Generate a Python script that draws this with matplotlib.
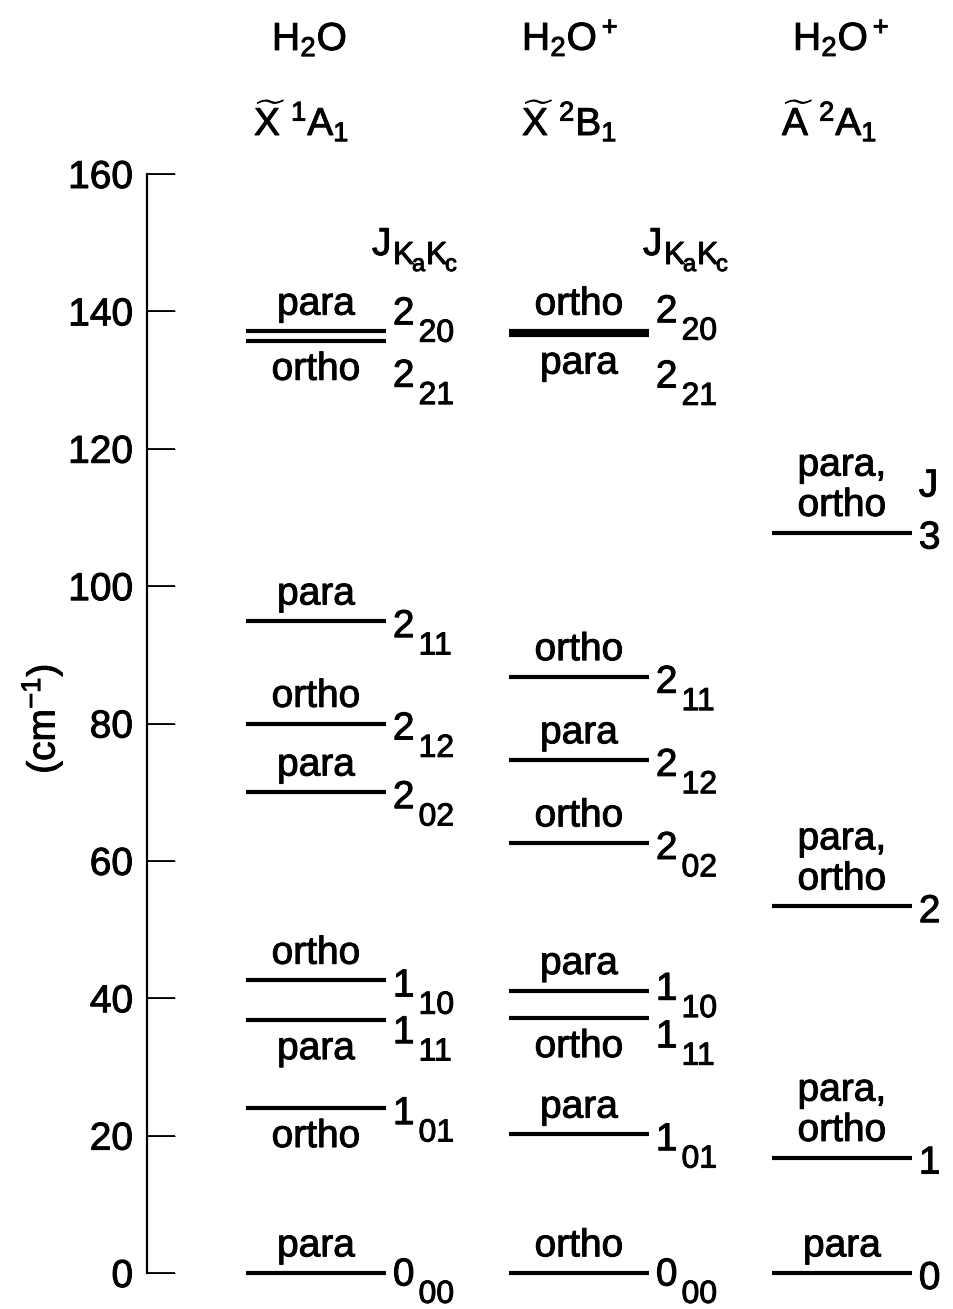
import matplotlib
matplotlib.use("Agg")
import matplotlib.pyplot as plt
import matplotlib.patheffects as pe

plt.rcParams['font.family'] = 'Liberation Sans'
plt.rcParams['mathtext.fontset'] = 'custom'
plt.rcParams['mathtext.rm'] = 'Liberation Sans'
plt.rcParams['mathtext.it'] = 'Liberation Sans'
plt.rcParams['mathtext.bf'] = 'Liberation Sans:bold'
# slightly heavier strokes on the lettering
plt.rcParams['path.effects'] = [pe.withStroke(linewidth=0.7, foreground='black')]

# ---- rotational levels (cm^-1) ----
# H2O  X 1A1
h2o_energy = [0.0, 24.0, 36.8, 42.6, 70.0, 80.0, 94.9, 135.7, 137.1]
h2o_j = ["0_00", "1_01", "1_11", "1_10", "2_02", "2_12", "2_11", "2_21", "2_20"]
h2o_spin = ["para", "ortho", "para", "ortho", "para", "ortho", "para", "ortho", "para"]

# H2O+  X 2B1
ion_x_energy = [0.0, 20.2, 37.1, 41.1, 62.6, 74.7, 86.8, 136.6, 137.1]
ion_x_j = ["0_00", "1_01", "1_11", "1_10", "2_02", "2_12", "2_11", "2_21", "2_20"]
ion_x_spin = ["ortho", "para", "ortho", "para", "ortho", "para", "ortho", "para", "ortho"]

# H2O+  A 2A1
ion_a_energy = [0.0, 16.8, 53.4, 107.8]
ion_a_j = ["0", "1", "2", "3"]
ion_a_spin = ["para", "para,\northo", "para,\northo", "para,\northo"]

# which side of the line the ortho/para name goes
h2o_side = ["up", "down", "down", "up", "up", "up", "up", "down", "up"]
ion_x_side = ["up", "up", "down", "up", "up", "up", "up", "down", "up"]
ion_a_side = ["up", "up", "up", "up"]

columns = [
    (h2o_energy, h2o_j, h2o_spin, h2o_side),
    (ion_x_energy, ion_x_j, ion_x_spin, ion_x_side),
    (ion_a_energy, ion_a_j, ion_a_spin, ion_a_side),
]

# vertical offset (points) of the J label baseline, where it differs from default
j_nudge = {
    (0, "0_00"): -9, (1, "0_00"): -9,
    (0, "1_11"): -16.5, (0, "2_21"): -33, (0, "2_20"): 5,
    (1, "1_10"): -6.5, (1, "1_11"): -21, (1, "2_21"): -38, (1, "2_20"): 6.5,
}

FS = 28
FSUB = 23
W, H = 954, 1309
fig = plt.figure(figsize=(W / 100, H / 100), dpi=100)
ax = fig.add_axes([147 / W, 36 / H, (W - 147) / W, 1099 / H])
ax.set_xlim(-0.6426, 2.4262)
ax.set_ylim(0, 160)
ax.patch.set_alpha(0)

for s in ["top", "right", "bottom"]:
    ax.spines[s].set_visible(False)
ax.spines["left"].set_linewidth(1.6)
ax.set_xticks([])
ax.set_yticks(range(0, 161, 20))
ax.tick_params(axis="y", direction="in", length=20, width=1.3,
               labelsize=FS, pad=10)

hw = 0.266

for ci, (energy, jlab, spin, side) in enumerate(columns):
    ax.hlines(energy, ci - hw, ci + hw, colors="black", lw=3, clip_on=False)
    for e, j, sp, sd in zip(energy, jlab, spin, side):
        dy = j_nudge.get((ci, j), -11.5)
        main, _, sub = j.partition("_")
        ax.annotate(main, xy=(ci + hw, e), xytext=(5, dy),
                    textcoords="offset points", ha="left", va="baseline",
                    fontsize=FS)
        if sub:
            ax.annotate(sub, xy=(ci + hw, e), xytext=(23.5, dy - 12.5),
                        textcoords="offset points", ha="left",
                        va="baseline", fontsize=FSUB)
        lines = sp.split("\n")
        if sd == "up":
            for k, ln in enumerate(reversed(lines)):
                ax.annotate(ln, xy=(ci, e), xytext=(0, 12 + k * 29),
                            textcoords="offset points", ha="center",
                            va="baseline", fontsize=FS)
        else:
            ax.annotate(sp, xy=(ci, e), xytext=(0, -28),
                        textcoords="offset points", ha="center",
                        va="baseline", fontsize=FS)

# J header next to the top A-state level
ax.annotate("J", xy=(2 + hw, ion_a_energy[-1]), xytext=(5, 26),
            textcoords="offset points", ha="left", va="baseline", fontsize=FS)


def ftext(px, py, s, **kw):
    kw.setdefault("fontsize", FS)
    kw.setdefault("va", "baseline")
    return fig.text(px / W, 1 - py / H, s, **kw)


# state headers
ftext(272, 50, r"H$_2$O")
ftext(522, 50, r"H$_2$O$^+$")
ftext(793, 50, r"H$_2$O$^+$")
ftext(254, 135, r"$\widetilde{X}\ {}^1A_1$")
ftext(522, 135, r"$\widetilde{X}\ {}^2B_1$")
ftext(782, 135, r"$\widetilde{A}\ {}^2A_1$")

# J_{KaKc} column headers
for x0 in (372, 643):
    ftext(x0, 255, "J")
    ftext(x0 + 21, 264, "K", fontsize=FSUB)
    ftext(x0 + 40, 271, "a", fontsize=17)
    ftext(x0 + 54, 264, "K", fontsize=FSUB)
    ftext(x0 + 73, 271, "c", fontsize=17)

# axis label
ftext(42, 719, r"(cm$^{-1}$)", rotation=90, ha="center", va="center")

fig.savefig("out.png", dpi=100)
